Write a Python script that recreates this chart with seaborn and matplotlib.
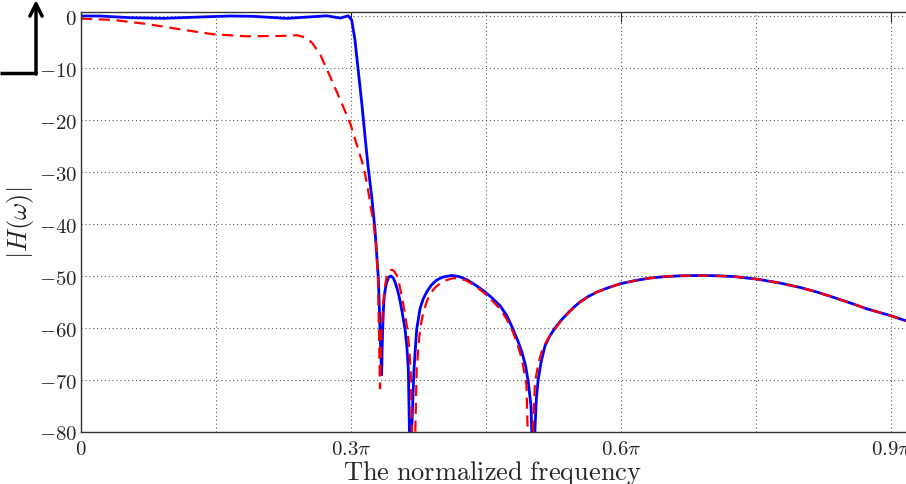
import numpy as np
import pandas as pd
import matplotlib
matplotlib.use('Agg')
import matplotlib.pyplot as plt
import seaborn as sns

# frequency in units of pi, magnitude in dB
blue_w = [0.0, 0.021, 0.054, 0.0915, 0.121, 0.1656, 0.191, 0.2285, 0.258, 0.273, 0.288, 0.297,
          0.3008, 0.3044, 0.308, 0.312, 0.3156, 0.319, 0.323, 0.3267, 0.329, 0.3304, 0.3322, 0.334,
          0.3346, 0.3352, 0.336, 0.337, 0.3383, 0.3397, 0.342, 0.3444, 0.347, 0.349, 0.3517,
          0.3544, 0.357, 0.36, 0.362, 0.3637, 0.3665,
          0.3674, 0.37, 0.373, 0.3767, 0.380, 0.384, 0.389, 0.395, 0.402, 0.412, 0.42, 0.4285,
          0.437, 0.447, 0.456, 0.4656, 0.473, 0.48, 0.485, 0.49, 0.494, 0.497, 0.5, 0.5035,
          0.5044, 0.506, 0.508, 0.5115, 0.5156, 0.521, 0.5267, 0.533, 0.54, 0.547, 0.5544, 0.563,
          0.573, 0.585, 0.599, 0.615, 0.632, 0.65, 0.668, 0.688, 0.706, 0.725, 0.751, 0.775,
          0.799, 0.818, 0.836, 0.855, 0.873, 0.899, 0.92]
blue_db = [0.0, 0.0, -0.32, -0.45, -0.26, 0.0, -0.06, -0.45, -0.13, 0.04, -0.4, 0.04,
           -0.8, -4.6, -10.4, -16.8, -23.2, -29.0, -34.7, -41.2, -47.0, -50.5, -60.2, -69.0,
           -64.0, -60.2, -56.5, -53.8, -52.3, -51.2, -50.2, -50.0, -50.4, -51.2, -52.7,
           -54.7, -57.1, -60.2, -63.5, -67.9, -95.0,
           -80.0, -67.9, -60.2, -56.3, -54.5, -53.1, -51.8, -50.8, -50.2, -49.9, -50.1, -50.7,
           -51.6, -52.8, -54.1, -55.7, -57.6, -60.2, -62.3, -64.7, -67.3, -70.4, -75.0, -95.0,
           -79.5, -73.5, -69.9, -66.3, -63.4, -61.5, -60.0, -58.6, -57.3, -56.1, -55.0, -54.0,
           -53.1, -52.3, -51.5, -50.9, -50.4, -50.1, -49.95, -49.9, -49.95, -50.1, -50.6, -51.3,
           -52.2, -53.1, -54.1, -55.2, -56.3, -57.6, -58.8]

red_w = [0.0, 0.036, 0.073, 0.11, 0.147, 0.184, 0.221, 0.24, 0.249, 0.257, 0.266, 0.277, 0.288,
         0.299, 0.306, 0.314, 0.319, 0.325, 0.328, 0.330, 0.3322, 0.334, 0.3358, 0.3378, 0.3395,
         0.3415, 0.3437, 0.346, 0.3485, 0.351, 0.3537, 0.3563, 0.3595, 0.3626, 0.3645, 0.3663,
         0.3695, 0.373, 0.376, 0.378, 0.3804, 0.384, 0.3878, 0.393, 0.399, 0.406, 0.4137, 0.421,
         0.4285, 0.437, 0.447, 0.456, 0.4656, 0.473, 0.48, 0.485, 0.49, 0.495, 0.4985, 0.5044,
         0.508, 0.5122, 0.519, 0.5267, 0.533, 0.54, 0.547, 0.5544, 0.563, 0.573, 0.585, 0.599,
         0.615, 0.632, 0.65, 0.668, 0.688, 0.706, 0.725, 0.751, 0.775, 0.799, 0.818, 0.836,
         0.855, 0.873, 0.899, 0.92]
red_db = [-0.5, -0.76, -1.53, -2.56, -3.52, -3.9, -3.84, -3.7, -4.1, -5.2, -7.5, -11.7, -16.1,
          -20.6, -24.5, -29.0, -33.5, -39.9, -44.0, -50.8, -71.6, -60.2, -55.3, -51.9, -50.3,
          -49.3, -48.9, -48.8, -49.2, -49.9, -51.6, -53.8, -56.8, -60.2, -63.6, -67.9,
          -95.0, -67.9, -61.5, -59.0, -57.0, -55.0, -53.5, -52.3, -51.4, -50.8, -50.4, -50.5,
          -50.9, -51.8, -53.1, -54.6, -56.3, -58.3, -60.8, -63.2, -66.0, -71.1, -95.0, -70.5,
          -67.0, -64.3, -62.0, -60.2, -58.7, -57.4, -56.2, -55.1, -54.0, -53.1, -52.3, -51.5,
          -50.9, -50.4, -50.1, -49.95, -49.9, -49.95, -50.1, -50.6, -51.3, -52.2, -53.1, -54.1,
          -55.2, -56.3, -57.6, -58.8]

xtick_vals = [0, 0.3, 0.6, 0.9]
xtick_labels = [r'$0$', r'$0.3\pi$', r'$0.6\pi$', r'$0.9\pi$']
xgrid_minor = [0.15, 0.45, 0.75]
ytick_vals = [0, -10, -20, -30, -40, -50, -60, -70, -80]
ytick_labels = [r'$0$'] + [r'$%d$' % v for v in ytick_vals[1:]]

sns.set_style('white')
plt.rcParams['mathtext.fontset'] = 'cm'
plt.rcParams['font.family'] = ['DejaVu Serif']

df_b = pd.DataFrame({'w': blue_w, 'db': blue_db})
df_r = pd.DataFrame({'w': red_w, 'db': red_db})

fig = plt.figure(figsize=(9.06, 4.85), dpi=100)
ax = fig.add_axes([81 / 906, 52 / 485, 900 / 906, 420.2 / 485])

sns.lineplot(data=df_b, x='w', y='db', ax=ax, color='#0000ff', lw=2.0, estimator=None, sort=False)
sns.lineplot(data=df_r, x='w', y='db', ax=ax, color='#ff0000', lw=1.6, estimator=None, sort=False)
ax.lines[-1].set_linestyle((0, (5, 3)))

ax.set_xlim(0, 1)
ax.set_ylim(-80, 0.81)
ax.set_xticks(xtick_vals)
ax.set_xticklabels(xtick_labels, fontsize=15)
ax.set_xticks(xgrid_minor, minor=True)
ax.set_yticks(ytick_vals)
ax.set_yticklabels(ytick_labels, fontsize=15)
ax.tick_params(which='major', direction='in', length=7, width=0.8, top=True, right=True,
               color='0.15')
ax.tick_params(axis='x', which='major', pad=5)
ax.tick_params(axis='y', which='major', pad=3)
ax.tick_params(which='minor', length=0)
ax.grid(which='both', axis='x', linestyle=(0, (1, 2.5)), color='0.35', lw=0.8)
ax.grid(which='major', axis='y', linestyle=(0, (1, 2.5)), color='0.35', lw=0.8)
ax.set_axisbelow(True)
for s in ax.spines.values():
    s.set_color('0.2')
    s.set_linewidth(1.0)

ax.set_xlabel(r'$\mathrm{The\ normalized\ frequency}$', fontsize=19)
ax.set_ylabel(r'$|H(\omega)|$', fontsize=19, labelpad=2)
ax.xaxis.set_label_coords((492 - 81) / 900, -(459 - 433) / 420.2)

# cropped annotation arrow at top-left corner
fig.add_artist(plt.Line2D([0, 37 / 906], [1 - 74 / 485, 1 - 74 / 485], transform=fig.transFigure,
                          color='k', lw=2.5, solid_capstyle='butt'))
ax.annotate('', xy=(36 / 906, 1 - 1 / 485), xytext=(36 / 906, 1 - 75 / 485),
            xycoords='figure fraction', textcoords='figure fraction',
            arrowprops=dict(arrowstyle='->', lw=2.5, color='k', mutation_scale=22,
                            shrinkA=0, shrinkB=0))

fig.savefig('out.png', dpi=100)
